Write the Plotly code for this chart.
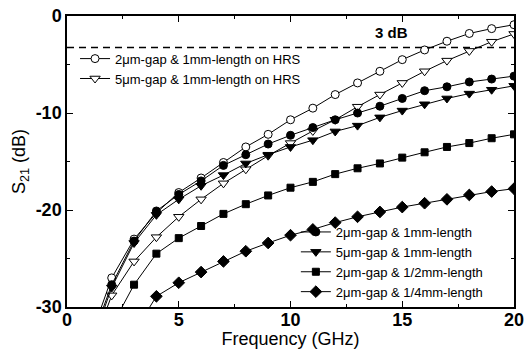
import plotly.graph_objects as go

freq = list(range(1, 21))

s21_2um_hrs = [-33.5, -27.0, -23.0, -20.3, -18.2, -16.7, -15.1, -13.5, -12.2, -10.7,
               -9.5, -8.1, -6.9, -5.7, -4.5, -3.5, -2.6, -1.8, -1.3, -0.9]
s21_5um_hrs = [-35.0, -28.8, -25.3, -22.8, -20.7, -18.9, -17.25, -15.8, -14.4, -13.1,
               -11.85, -10.7, -9.35, -8.1, -6.9, -5.7, -4.6, -3.6, -2.65, -1.85]
s21_2um_1mm = [-34.0, -27.7, -23.2, -20.1, -18.4, -17.0, -15.4, -14.3, -13.2, -12.3,
               -11.5, -10.7, -10.0, -9.3, -8.5, -7.7, -7.3, -6.8, -6.5, -6.2]
s21_5um_1mm = [-34.5, -28.0, -23.4, -20.5, -18.9, -17.5, -16.4, -15.2, -14.3, -13.5,
               -12.8, -11.9, -11.3, -10.45, -9.75, -9.1, -8.5, -8.0, -7.6, -7.2]
s21_2um_half = [-37.0, -32.0, -27.7, -24.5, -22.9, -21.65, -20.4, -19.4, -18.5, -17.7,
                -17.1, -16.3, -15.7, -15.2, -14.6, -14.05, -13.5, -13.1, -12.6, -12.2]
s21_2um_quarter = [-40.0, -37.0, -32.6, -28.9, -27.5, -26.4, -25.3, -24.25, -23.4, -22.6,
                   -22.0, -21.3, -20.7, -20.2, -19.7, -19.3, -18.9, -18.45, -18.1, -17.8]

ref_3db = -3.25
x_ticks = [0, 5, 10, 15, 20]
y_ticks = [-30, -20, -10, 0]

FONT = "Arial, Liberation Sans, sans-serif"

fig = go.Figure()

series = [
    ("2\u03bcm-gap & 1mm-length on HRS", s21_2um_hrs, "circle-open", 8, "legend"),
    ("5\u03bcm-gap & 1mm-length on HRS", s21_5um_hrs, "triangle-down-open", 9, "legend"),
    ("2\u03bcm-gap & 1mm-length", s21_2um_1mm, "circle", 8, "legend2"),
    ("5\u03bcm-gap & 1mm-length", s21_5um_1mm, "triangle-down", 9, "legend2"),
    ("2\u03bcm-gap & 1/2mm-length", s21_2um_half, "square", 7, "legend2"),
    ("2\u03bcm-gap & 1/4mm-length", s21_2um_quarter, "diamond", 9, "legend2"),
]

for name, vals, sym, size, lg in series:
    open_sym = sym.endswith("-open")
    fig.add_trace(go.Scatter(
        x=freq, y=vals, name=name, mode="lines+markers",
        line=dict(color="black", width=1),
        marker=dict(symbol=sym.replace("-open", ""), size=size,
                    color="white" if open_sym else "black",
                    line=dict(color="black", width=1)),
        legend=lg,
    ))

# 3 dB reference line
fig.add_trace(go.Scatter(
    x=[0, 20], y=[ref_3db, ref_3db], mode="lines",
    line=dict(color="black", width=1.5, dash="7px,5px"),
    showlegend=False, hoverinfo="skip",
))

fig.add_annotation(x=14.5, y=-1.75, xref="x", yref="y", text="<b>3 dB</b>",
                   showarrow=False, font=dict(family=FONT, size=15, color="black"))

axis_common = dict(
    showgrid=False, zeroline=False, showline=True, linecolor="black", linewidth=1.5,
    mirror="allticks", ticks="inside", ticklen=6, tickwidth=1, tickcolor="black",
    tickfont=dict(family=FONT, size=18, color="black", weight="bold"),
    automargin=False,
)

fig.update_layout(
    width=525, height=349,
    margin=dict(l=67, r=11, t=16, b=42),
    paper_bgcolor="white", plot_bgcolor="white",
    font=dict(family=FONT, color="black"),
    xaxis=dict(range=[0, 20], tickvals=x_ticks, ticktext=[str(v) for v in x_ticks],
               minor=dict(dtick=2.5, ticks="inside", ticklen=3, tickcolor="black"),
               ticklabelstandoff=-4,
               title=dict(text="Frequency (GHz)", font=dict(family=FONT, size=18),
                          standoff=2),
               **axis_common),
    yaxis=dict(range=[-30, 0], tickvals=y_ticks, ticktext=[str(v) for v in y_ticks],
               minor=dict(dtick=5, ticks="inside", ticklen=3, tickcolor="black"),
               title=dict(text="S<sub>21</sub> (dB)", font=dict(family=FONT, size=18),
                          standoff=5),
               **axis_common),
    legend=dict(x=0.018, y=0.905, xanchor="left", yanchor="top", bgcolor="rgba(0,0,0,0)",
                font=dict(family=FONT, size=13, color="black"), borderwidth=0,
                tracegroupgap=0, itemwidth=30),
    legend2=dict(x=0.512, y=0.0, xanchor="left", yanchor="bottom",
                 bgcolor="rgba(0,0,0,0)",
                 font=dict(family=FONT, size=13, color="black"), borderwidth=0,
                 tracegroupgap=0, itemwidth=30),
)

fig.write_html(
    "out.html",
    config={"displayModeBar": False},
    post_script="document.body.style.margin='0';document.body.style.overflow='hidden';",
)
